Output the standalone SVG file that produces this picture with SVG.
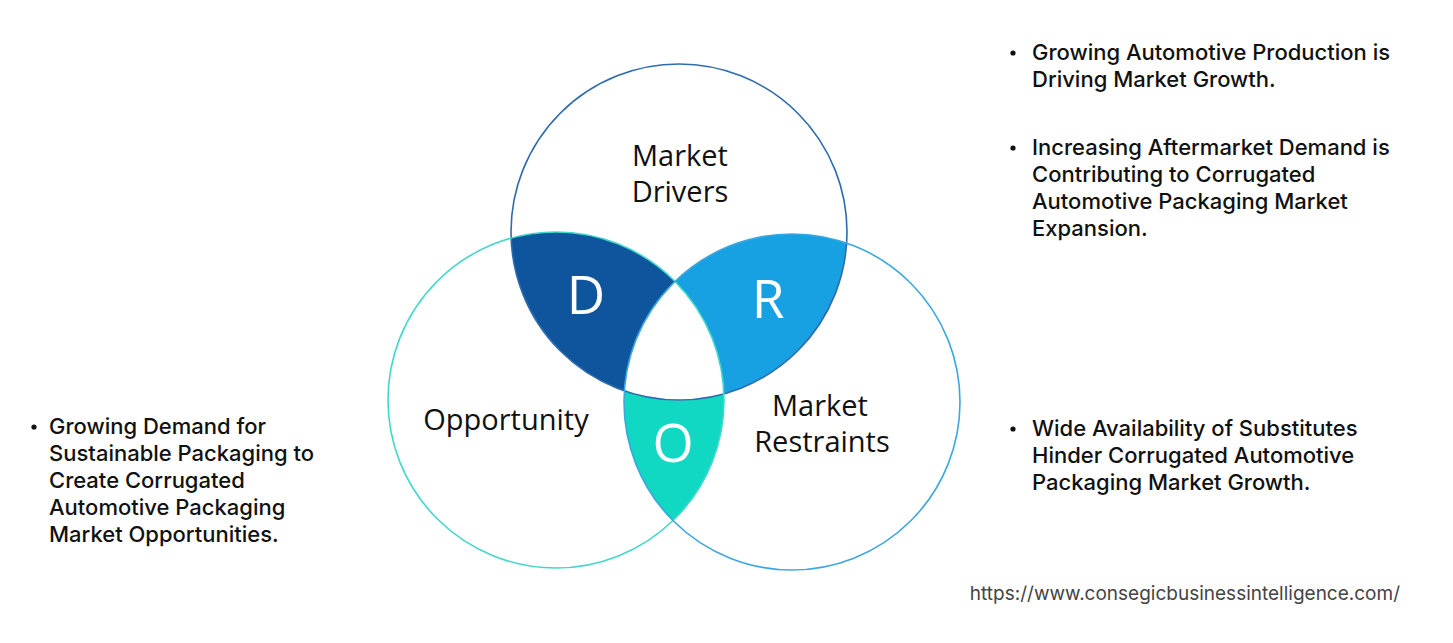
<svg xmlns="http://www.w3.org/2000/svg" width="1453" height="643" viewBox="0 0 1453 643">
<style>
.lbl{font-family:"Open Sans","Liberation Sans",sans-serif;font-size:29px;fill:#111;text-anchor:middle}
.big{font-family:"Open Sans","Liberation Sans",sans-serif;font-size:53px;fill:#fff;text-anchor:middle}
.bt{font-family:Inter,"Liberation Sans",sans-serif;font-size:22px;font-weight:500;fill:#111}
.url{font-family:Inter,"Liberation Sans",sans-serif;font-size:19px;fill:#444;text-anchor:end}
.ring{fill:none;stroke-width:1.6}
</style>
<rect width="1453" height="643" fill="#fff"/>
<g id="region-D">
<path d="M511.1,238.1 A168,168 0 0 1 675,281.4 A168,168 0 0 0 624.4,390.9 A168,168 0 0 1 511.1,238.1 Z" fill="#0F559E"/>
<text class="big" x="586" y="314">D</text>
</g>
<g id="region-R">
<path d="M846.6,243.1 A168,168 0 0 0 675,281.4 A168,168 0 0 1 723.9,393.9 A168,168 0 0 0 846.6,243.1 Z" fill="#17A0E2"/>
<text class="big" x="768" y="318">R</text>
</g>
<g id="region-O">
<path d="M624.4,390.9 A168,168 0 0 0 723.9,393.9 A168,168 0 0 1 673,520.6 A168,168 0 0 1 624.4,390.9 Z" fill="#10D8C3"/>
<text class="big" x="673" y="462">O</text>
</g>
<g id="circle-drivers">
<circle class="ring" cx="679" cy="232" r="168" stroke="#2E6BAE"/>
<text class="lbl" x="680" y="166">Market</text>
<text class="lbl" x="680" y="202">Drivers</text>
</g>
<g id="circle-opportunity">
<circle class="ring" cx="556" cy="400" r="168" stroke="#40D8CA"/>
<text class="lbl" x="506" y="430">Opportunity</text>
</g>
<g id="circle-restraints">
<circle class="ring" cx="792" cy="402" r="168" stroke="#3BA7E0"/>
<text class="lbl" x="820" y="416">Market</text>
<text class="lbl" x="822" y="452">Restraints</text>
</g>
<g id="drivers-text">
<circle cx="1013" cy="53" r="2.6" fill="#111"/>
<text class="bt" x="1032" y="60">Growing Automotive Production is</text>
<text class="bt" x="1032" y="87">Driving Market Growth.</text>
<circle cx="1013" cy="148" r="2.6" fill="#111"/>
<text class="bt" x="1032" y="155">Increasing Aftermarket Demand is</text>
<text class="bt" x="1032" y="182">Contributing to Corrugated</text>
<text class="bt" x="1032" y="209">Automotive Packaging Market</text>
<text class="bt" x="1032" y="236">Expansion.</text>
</g>
<g id="opportunity-text">
<circle cx="34" cy="427" r="2.6" fill="#111"/>
<text class="bt" x="49" y="434">Growing Demand for</text>
<text class="bt" x="49" y="461">Sustainable Packaging to</text>
<text class="bt" x="49" y="488">Create Corrugated</text>
<text class="bt" x="49" y="515">Automotive Packaging</text>
<text class="bt" x="49" y="542">Market Opportunities.</text>
</g>
<g id="restraints-text">
<circle cx="1013" cy="429" r="2.6" fill="#111"/>
<text class="bt" x="1032" y="436">Wide Availability of Substitutes</text>
<text class="bt" x="1032" y="463">Hinder Corrugated Automotive</text>
<text class="bt" x="1032" y="490">Packaging Market Growth.</text>
</g>
<g id="connectors"></g>
<text class="url" x="1400" y="600">https://www.consegicbusinessintelligence.com/</text>
</svg>
